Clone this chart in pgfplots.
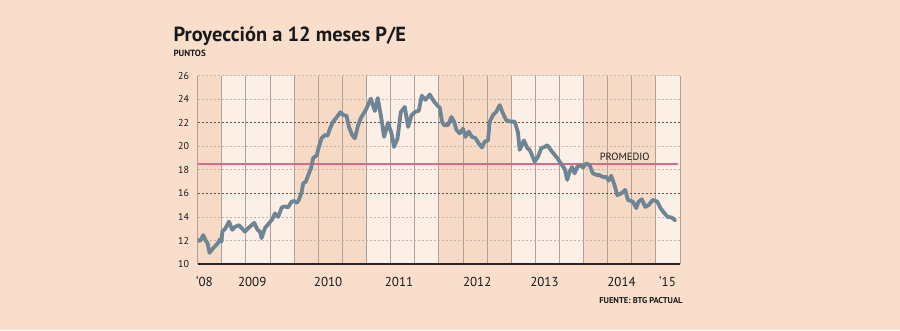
\documentclass[border=0pt]{standalone}
\usepackage{pgfplots}
\pgfplotsset{compat=1.18}
\usepackage{fontspec}
\setmainfont{PT Sans}
\definecolor{bg}{RGB}{248,222,203}
\definecolor{bandlight}{RGB}{252,239,230}
\definecolor{banddark}{RGB}{247,218,198}
\definecolor{pe}{RGB}{110,133,150}
\definecolor{prom}{RGB}{224,102,140}
\definecolor{vgrid}{RGB}{172,162,155}
\definecolor{hlight}{RGB}{195,180,170}
\definecolor{hdark}{RGB}{95,85,80}
\definecolor{txt}{RGB}{25,25,25}

\pgfplotstableread{
t v
2008.667 12.05
2008.699 11.95
2008.744 12.45
2008.777 12.00
2008.805 11.75
2008.830 10.95
2008.882 11.35
2008.943 11.75
2008.975 12.10
2008.996 11.90
2009.007 12.75
2009.053 13.05
2009.099 13.60
2009.145 12.90
2009.182 13.15
2009.237 13.30
2009.275 13.05
2009.320 12.75
2009.366 13.05
2009.413 13.30
2009.448 13.50
2009.495 12.90
2009.527 12.75
2009.550 12.20
2009.596 13.05
2009.651 13.45
2009.697 13.80
2009.734 14.30
2009.780 14.00
2009.827 14.80
2009.872 14.90
2009.914 14.80
2009.965 15.30
2009.997 15.35
2010.038 15.20
2010.066 15.45
2010.103 16.10
2010.125 16.85
2010.162 17.00
2010.194 17.55
2010.231 18.10
2010.263 19.00
2010.314 19.25
2010.342 19.95
2010.379 20.68
2010.425 20.96
2010.462 20.90
2010.494 21.50
2010.539 22.10
2010.586 22.45
2010.641 22.90
2010.677 22.65
2010.724 22.60
2010.756 21.66
2010.801 20.96
2010.839 20.68
2010.884 21.80
2010.922 22.40
2010.991 23.10
2011.060 24.05
2011.115 23.00
2011.156 24.10
2011.207 22.30
2011.243 20.80
2011.298 22.00
2011.345 21.10
2011.381 19.95
2011.428 20.65
2011.474 22.90
2011.529 23.35
2011.575 21.65
2011.622 22.65
2011.677 22.95
2011.722 23.00
2011.764 24.30
2011.815 23.95
2011.874 24.40
2011.934 23.80
2011.989 23.40
2012.012 23.30
2012.044 22.10
2012.072 21.80
2012.127 21.80
2012.174 22.50
2012.210 22.10
2012.243 21.40
2012.288 21.10
2012.334 21.50
2012.367 20.80
2012.413 21.25
2012.458 20.80
2012.505 20.70
2012.551 20.25
2012.596 19.90
2012.634 20.40
2012.679 20.50
2012.703 22.10
2012.748 22.65
2012.795 22.95
2012.841 23.50
2012.886 22.80
2012.933 22.20
2012.993 22.10
2013.048 22.10
2013.093 21.20
2013.117 19.70
2013.176 20.50
2013.223 19.85
2013.255 19.70
2013.287 19.25
2013.324 18.70
2013.369 19.10
2013.416 19.85
2013.462 19.95
2013.499 20.10
2013.545 19.70
2013.590 19.35
2013.637 19.00
2013.692 18.50
2013.738 18.10
2013.775 17.15
2013.807 17.85
2013.839 18.25
2013.876 17.70
2013.913 18.25
2013.959 18.40
2013.991 18.20
2014.038 18.55
2014.083 18.40
2014.129 17.70
2014.189 17.55
2014.221 17.55
2014.267 17.40
2014.314 17.40
2014.345 17.08
2014.383 17.50
2014.428 16.70
2014.466 15.85
2014.521 16.00
2014.576 16.30
2014.612 15.45
2014.681 15.30
2014.728 14.75
2014.760 15.30
2014.805 15.50
2014.852 14.85
2014.898 15.00
2014.957 15.45
2015.018 15.30
2015.063 14.75
2015.119 14.30
2015.164 14.00
2015.219 13.95
2015.266 13.70
}\petable

\begin{document}
\begin{tikzpicture}
\fill[bg] (0pt,0pt) rectangle (900pt,330pt);
% year bands behind the plot area (dark and light alternate)
\fill[banddark] (197.7pt,66pt) rectangle (680pt,254.3pt);
\fill[bandlight] (221.82pt,66pt) rectangle (294.16pt,254.3pt);
\fill[bandlight] (366.51pt,66pt) rectangle (438.85pt,254.3pt);
\fill[bandlight] (511.20pt,66pt) rectangle (583.54pt,254.3pt);
\fill[bandlight] (655.89pt,66pt) rectangle (680pt,254.3pt);
\node[anchor=base west, inner sep=0, text=txt, font=\bfseries\fontsize{20.4}{20.4}\selectfont] at (173.3pt,288.3pt) {Proyección a 12 meses P/E};
\node[anchor=base west, inner sep=0, text=txt, font=\bfseries\fontsize{9}{9}\selectfont] at (173.3pt,273.3pt) {PUNTOS};
\node[anchor=base east, inner sep=0, text=txt, font=\bfseries\fontsize{8.5}{8.5}\selectfont] at (682.7pt,26.7pt) {FUENTE: BTG PACTUAL};
\begin{axis}[
  at={(197.7pt,66pt)}, anchor=south west,
  scale only axis, width=482.3pt, height=188.3pt,
  xmin=2008.667, xmax=2015.333, ymin=10, ymax=26,
  axis x line*=bottom, axis y line*=left,
  x axis line style={draw=black!85, line width=1.1pt},
  y axis line style={draw=vgrid, line width=0.9pt},
  xtick={2008.76,2009.42,2010.47,2011.45,2012.53,2013.46,2014.525,2015.16},
  xticklabels={‘08,2009,2010,2011,2012,2013,2014,‘15},
  xticklabel style={font=\fontsize{13}{13}\selectfont, text=txt, anchor=base, inner sep=0pt, yshift=-22.7pt},
  minor xtick={2009,2009.3333,2009.6667,2010,2010.3333,2010.6667,2011,2011.3333,2011.6667,2012,2012.3333,2012.6667,2013,2013.3333,2013.6667,2014,2014.3333,2014.6667,2015,2015.3333},
  xminorgrids, minor x grid style={draw=vgrid, line width=0.9pt},
  ytick={10,12,...,26},
  ymajorgrids, major y grid style={draw=hlight, line width=0.8pt, dash pattern=on 2pt off 2pt},
  major tick length=0pt, minor tick length=0pt,
  yticklabel style={font=\fontsize{10}{10}\selectfont, text=txt, inner sep=0pt, xshift=-8.4pt},
  /pgf/number format/assume math mode=true,
]
\addplot[draw=hdark, line width=0.8pt, dash pattern=on 2pt off 2pt, forget plot] coordinates {(2008.667,22) (2015.333,22)};
\addplot[draw=hdark, line width=0.8pt, dash pattern=on 2pt off 2pt, forget plot] coordinates {(2008.667,16) (2015.333,16)};
\addplot[draw=prom, line width=1.4pt] coordinates {(2008.667,18.5) (2015.30,18.5)};
\addplot[draw=pe, line width=3.8pt, line join=round, line cap=round] table[x=t, y=v] {\petable};
\node[anchor=base west, inner sep=0, text=txt, font=\fontsize{10.5}{10.5}\selectfont] at (axis cs:2014.221,18.78) {PROMEDIO};
\end{axis}
\end{tikzpicture}
\end{document}
